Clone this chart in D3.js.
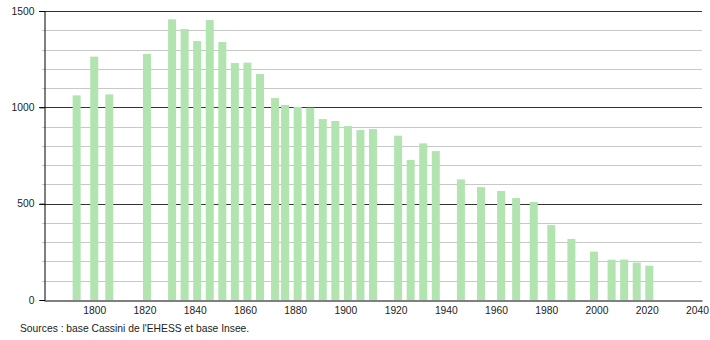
<!DOCTYPE html>
<html>
<head>
<meta charset="utf-8">
<script src="https://cdn.jsdelivr.net/npm/d3@7"></script>
<style>
  body { margin: 0; background: #fff; }
  svg text { font-family: "Liberation Sans", Arial, sans-serif; font-size: 10.3px; fill: #222; }
</style>
</head>
<body>
<div id="vis-container"></div>
<script>
// census years and population
const years = [1793, 1800, 1806, 1821, 1831, 1836, 1841, 1846, 1851, 1856, 1861, 1866,
    1872, 1876, 1881, 1886, 1891, 1896, 1901, 1906, 1911, 1921, 1926, 1931, 1936,
    1946, 1954, 1962, 1968, 1975, 1982, 1990, 1999, 2006, 2011, 2016, 2021];
const population = [1062, 1263, 1067, 1277, 1457, 1406, 1344, 1453, 1339, 1230, 1232, 1173,
    1048, 1012, 1002, 998, 939, 929, 903, 882, 887, 853, 727, 813, 773,
    626, 586, 566, 529, 509, 389, 317, 251, 209, 210, 194, 178];
const xTicks = [1800, 1820, 1840, 1860, 1880, 1900, 1920, 1940, 1960, 1980, 2000, 2020, 2040];
const yMajor = [0, 500, 1000, 1500];
const yMinor = d3.range(100, 1500, 100).filter(v => v % 500 != 0);
const sourceText = "Sources : base Cassini de l'EHESS et base Insee.";

const w = 710, h = 340;
const padLeft = 44, padRight = 702, padTop = 11, padBottom = 300;
const barWidth = 8;

const svg = d3.select("#vis-container").append("svg")
    .attr("width", w)
    .attr("height", h);

const xScale = d3.scaleLinear().domain([1780, 2042]).range([padLeft, padRight]);
const yScale = d3.scaleLinear().domain([0, 1500]).range([padBottom, padTop]);

// minor gridlines (with a short tick left of the axis)
svg.selectAll(".minor")
    .data(yMinor)
    .enter().append("line")
    .attr("x1", padLeft - 2).attr("x2", padRight)
    .attr("y1", d => Math.round(yScale(d)) + 0.5)
    .attr("y2", d => Math.round(yScale(d)) + 0.5)
    .attr("stroke", "#c8c8c8");

// major gridlines
svg.selectAll(".major")
    .data(yMajor.filter(d => d > 0))
    .enter().append("line")
    .attr("x1", padLeft - 5).attr("x2", padRight)
    .attr("y1", d => Math.round(yScale(d)) + 0.5)
    .attr("y2", d => Math.round(yScale(d)) + 0.5)
    .attr("stroke", "#333");

// bars
svg.selectAll(".bar")
    .data(years)
    .enter().append("rect")
    .attr("class", "bar")
    .attr("x", d => xScale(d) - barWidth / 2)
    .attr("width", barWidth)
    .attr("y", (d, i) => yScale(population[i]))
    .attr("height", (d, i) => yScale(0) - yScale(population[i]))
    .attr("fill", "#b2e4b0");

// y axis
const yAxis = d3.axisLeft(yScale).tickValues(yMajor).tickSize(5).tickPadding(5)
    .tickFormat(d3.format("d"));
const gy = svg.append("g")
    .attr("transform", "translate(" + (padLeft + 0.5) + ",0)")
    .call(yAxis);
gy.select(".domain").attr("stroke", "#000");
gy.selectAll(".tick line").attr("stroke", "#000");
gy.selectAll("text").style("font-size", "10.3px");

// x axis
const xAxis = d3.axisBottom(xScale).tickValues(xTicks).tickSize(0).tickPadding(6)
    .tickFormat(d3.format("d"));
const gx = svg.append("g")
    .attr("transform", "translate(0," + (padBottom + 0.5) + ")")
    .call(xAxis);
gx.select(".domain").attr("stroke", "#000");
gx.selectAll("text").style("font-size", "10.3px");

// source line
svg.append("text")
    .attr("x", 20)
    .attr("y", 332)
    .text(sourceText);
</script>
</body>
</html>
